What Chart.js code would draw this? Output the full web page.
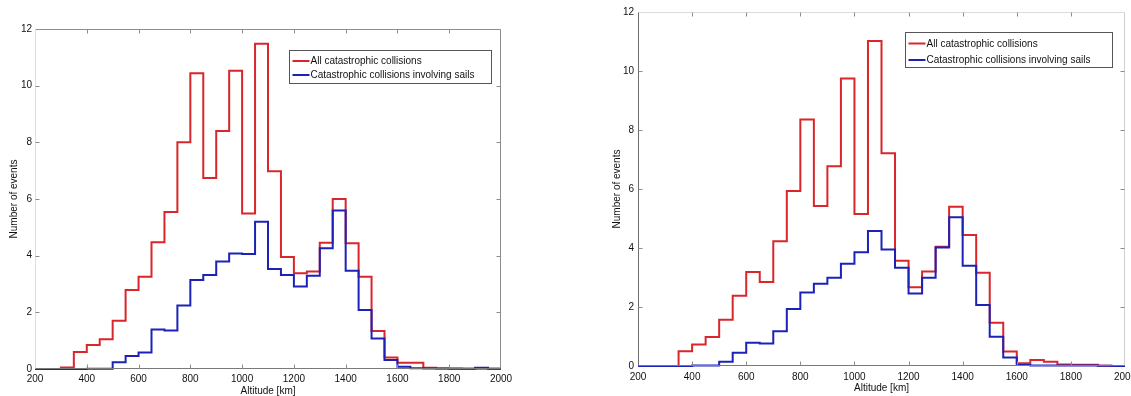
<!DOCTYPE html>
<html>
<head>
<meta charset="utf-8">
<script src="https://cdn.jsdelivr.net/npm/chart.js@4/dist/chart.umd.min.js"></script>
<style>
  html, body { margin: 0; padding: 0; background: #fff; }
  body { width: 1131px; height: 396px; position: relative; overflow: hidden; }
  .panel { position: absolute; top: 0; height: 396px; }
  #panelA { left: 0; width: 520px; }
  #panelB { left: 560px; width: 571px; }
</style>
</head>
<body>
<div class="panel" id="panelA"><canvas id="chartA" width="520" height="396"></canvas></div>
<div class="panel" id="panelB"><canvas id="chartB" width="571" height="396"></canvas></div>
<script>
// Altitude bin edges [km], 50 km bins from 200 to 2000
const binEdges = [200, 250, 300, 350, 400, 450, 500, 550, 600, 650, 700, 750, 800, 850, 900, 950,
  1000, 1050, 1100, 1150, 1200, 1250, 1300, 1350, 1400, 1450, 1500, 1550, 1600, 1650, 1700,
  1750, 1800, 1850, 1900, 1950, 2000];

const xTicks = [200, 400, 600, 800, 1000, 1200, 1400, 1600, 1800, 2000];
const yTicks = [0, 2, 4, 6, 8, 10, 12];

const seriesLabels = ['All catastrophic collisions', 'Catastrophic collisions involving sails'];

// Scenario A: events per bin
const allCollisionsA = [0, 0, 0.05, 0.6, 0.85, 1.05, 1.7, 2.79, 3.26, 4.47, 5.54, 8.0, 10.44, 6.74,
  8.4, 10.53, 5.49, 11.48, 6.98, 3.95, 3.38, 3.44, 4.46, 6.0, 4.44, 3.26, 1.34, 0.41, 0.22, 0.22,
  0.04, 0.02, 0.02, 0.01, 0.01, 0.01];
const sailCollisionsA = [0, 0, 0, 0, 0.01, 0.01, 0.24, 0.46, 0.58, 1.39, 1.36, 2.24, 3.14, 3.32,
  3.79, 4.08, 4.06, 5.2, 3.53, 3.32, 2.91, 3.29, 4.26, 5.59, 3.47, 2.08, 1.08, 0.32, 0.08, 0.03,
  0.02, 0.02, 0.01, 0.01, 0.04, 0.01];

// Scenario B: events per bin
const allCollisionsB = [0, 0, 0, 0.5, 0.73, 0.98, 1.57, 2.38, 3.19, 2.85, 4.23, 5.93, 8.36, 5.42,
  6.77, 9.75, 5.15, 11.02, 7.21, 3.57, 2.67, 3.2, 4.04, 5.4, 4.44, 3.16, 1.47, 0.49, 0.09, 0.2,
  0.14, 0.05, 0.04, 0.04, 0.01, 0];
const sailCollisionsB = [0, 0, 0, 0, 0.02, 0.02, 0.14, 0.45, 0.79, 0.76, 1.18, 1.93, 2.49, 2.79,
  2.99, 3.47, 3.86, 4.58, 3.95, 3.33, 2.46, 2.99, 4.02, 5.04, 3.4, 2.07, 0.99, 0.29, 0.03, 0.02,
  0.02, 0.02, 0.02, 0.02, 0.01, 0];

const RED = '#d9262b';
const BLUE = '#1c22b8';
const FONT = "'Liberation Sans', Arial, Helvetica, sans-serif";
const TEXT = '#111';

// Stairs outline: one point per bin edge, last bin value repeated at the closing edge
function stairs(values) {
  return binEdges.map((x, i) => ({ x, y: values[Math.min(i, values.length - 1)] }));
}

// Box, inward tick marks and an inset legend, MATLAB style
const axesFrame = {
  id: 'axesFrame',
  afterDatasetsDraw(chart, args, opts) {
    const { ctx, chartArea: a, scales } = chart;
    const L = Math.round(a.left) + 0.5, R = Math.round(a.right) - 0.5;
    const T = Math.round(a.top) + 0.5, B = Math.round(a.bottom) - 0.5;
    ctx.save();
    ctx.lineWidth = 1;
    const side = (color, x1, y1, x2, y2) => {
      ctx.strokeStyle = color; ctx.beginPath(); ctx.moveTo(x1, y1); ctx.lineTo(x2, y2); ctx.stroke();
    };
    side(opts.topColor, L, T, R, T);
    side(opts.rightColor, R, T, R, B);
    side(opts.bottomColor, L, B, R, B);
    side(opts.leftColor, L, T, L, B);
    const tl = 4;
    ctx.strokeStyle = opts.tickColor;
    ctx.beginPath();
    xTicks.slice(1, -1).forEach(v => {
      const px = Math.round(scales.x.getPixelForValue(v)) + 0.5;
      ctx.moveTo(px, B); ctx.lineTo(px, B - tl);
      ctx.moveTo(px, T); ctx.lineTo(px, T + tl);
    });
    yTicks.slice(1, -1).forEach(v => {
      const py = Math.round(scales.y.getPixelForValue(v)) + 0.5;
      ctx.moveTo(L, py); ctx.lineTo(L + tl, py);
      ctx.moveTo(R, py); ctx.lineTo(R - tl, py);
    });
    ctx.stroke();

    // legend box anchored to the upper right corner of the plot area
    const lg = opts.legend;
    const bx = Math.round(a.right - lg.right - lg.width) + 0.5;
    const by = Math.round(a.top + lg.top) + 0.5;
    ctx.fillStyle = '#fff';
    ctx.fillRect(bx, by, lg.width, lg.height);
    ctx.strokeStyle = '#555';
    ctx.strokeRect(bx, by, lg.width, lg.height);
    ctx.font = '10px ' + FONT;
    ctx.textBaseline = 'middle';
    chart.data.datasets.forEach((ds, i) => {
      const cy = by + lg.firstRow + i * lg.rowGap;
      ctx.strokeStyle = ds.borderColor;
      ctx.lineWidth = 2;
      ctx.beginPath(); ctx.moveTo(bx + 3, cy); ctx.lineTo(bx + 3 + lg.lineLen, cy); ctx.stroke();
      ctx.fillStyle = TEXT;
      ctx.fillText(ds.label, bx + 4 + lg.lineLen, cy + 0.5);
    });
    ctx.restore();
  }
};

function makeChart(canvasId, allVals, sailVals, geom) {
  return new Chart(document.getElementById(canvasId), {
    type: 'line',
    data: {
      datasets: [
        { label: seriesLabels[0], data: stairs(allVals), borderColor: RED, borderWidth: 2,
          stepped: 'before', pointRadius: 0, fill: false, order: 2, clip: 3 },
        { label: seriesLabels[1], data: stairs(sailVals), borderColor: BLUE, borderWidth: 2,
          stepped: 'before', pointRadius: 0, fill: false, order: 1, clip: 3 }
      ]
    },
    options: {
      responsive: false,
      animation: false,
      devicePixelRatio: 1,
      layout: { padding: geom.padding },
      plugins: {
        legend: { display: false },
        tooltip: { enabled: false },
        axesFrame: geom.frame
      },
      scales: {
        x: {
          type: 'linear', min: 200, max: 2000,
          afterBuildTicks: s => { s.ticks = xTicks.map(v => ({ value: v })); },
          afterFit: s => { s.height = geom.xHeight; s.paddingLeft = 0; s.paddingRight = 0; },
          grid: { display: false, drawTicks: false },
          border: { display: false },
          ticks: { padding: geom.xTickPad, maxRotation: 0, autoSkip: false, color: TEXT,
                   font: { family: FONT, size: 10 }, callback: v => String(v) },
          title: { display: true, text: 'Altitude [km]', color: TEXT,
                   font: { family: FONT, size: 10, lineHeight: 1 },
                   padding: { top: 0, bottom: geom.xTitlePad } }
        },
        y: {
          type: 'linear', min: 0, max: 12,
          afterBuildTicks: s => { s.ticks = yTicks.map(v => ({ value: v })); },
          afterFit: s => { s.width = geom.yWidth; s.paddingTop = 0; s.paddingBottom = 0; },
          grid: { display: false, drawTicks: false },
          border: { display: false },
          ticks: { padding: geom.yTickPad, color: TEXT, font: { family: FONT, size: 10 },
                   callback: v => String(v) },
          title: { display: true, text: 'Number of events', color: TEXT,
                   font: { family: FONT, size: 10, lineHeight: 1 },
                   padding: { top: geom.yTitlePad, bottom: 0 } }
        }
      }
    },
    plugins: [axesFrame]
  });
}

makeChart('chartA', allCollisionsA, sailCollisionsA, {
  padding: { top: 29, right: 19, bottom: 0, left: 0 },
  xHeight: 27, yWidth: 35, xTickPad: 4, yTickPad: 3, xTitlePad: 0, yTitlePad: 9,
  frame: {
    topColor: '#8c8c8c', rightColor: '#8c8c8c', bottomColor: '#7a7a7a', leftColor: '#dedede',
    tickColor: '#8c8c8c',
    legend: { right: 10, top: 21, width: 202, height: 33, firstRow: 10.5, rowGap: 14, lineLen: 17 }
  }
});

makeChart('chartB', allCollisionsB, sailCollisionsB, {
  padding: { top: 12, right: 6, bottom: 0, left: 52 },
  xHeight: 30, yWidth: 26, xTickPad: 5, yTickPad: 4, xTitlePad: 3, yTitlePad: 0,
  frame: {
    topColor: '#dcdcdc', rightColor: '#cfcfcf', bottomColor: '#7a7a7a', leftColor: '#6e6e6e',
    tickColor: '#8c8c8c',
    legend: { right: 13, top: 20, width: 207, height: 35, firstRow: 11, rowGap: 16.5, lineLen: 17 }
  }
});
</script>
</body>
</html>
